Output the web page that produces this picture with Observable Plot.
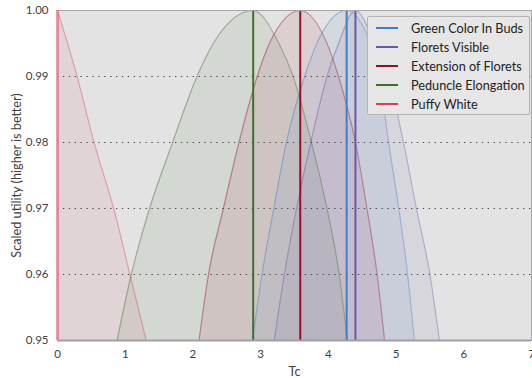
<!DOCTYPE html>
<html>
<head>
<meta charset="utf-8">
<script src="https://cdn.jsdelivr.net/npm/d3@7"></script>
<script src="https://cdn.jsdelivr.net/npm/@observablehq/plot@0.6"></script>
<style>
  body { margin: 0; background: #fff; font-family: Lato, "Open Sans", sans-serif; }
  #wrap { position: relative; width: 532px; height: 378px; }
  #legend { position: absolute; left: 367px; top: 16px; width: 163px; height: 99px;
    border: 1px solid #b4b4b4; border-radius: 2px; background: #e6e6e6; box-sizing: border-box;
    padding-top: 2px; }
  .row { height: 18.8px; display: flex; align-items: center; font-size: 12.7px; color: #222; white-space: nowrap; }
  .sw { width: 22px; height: 2px; margin-left: 8px; margin-right: 13px; flex: none; }
</style>
</head>
<body>
<div id="wrap"></div>
<script>
const seriesNames = ["Green Color In Buds", "Florets Visible", "Extension of Florets", "Peduncle Elongation", "Puffy White"];
const seriesColors = ["#3f7fc6", "#6a58a8", "#96102a", "#3f6f2c", "#d8405a"];
const peaksX = [4.27, 4.40, 3.585, 2.89, 0];

// shared utility levels of the bell-shaped curves (left flank, peak, right flank)
const levels = [0.95, 0.96, 0.97, 0.98, 0.99, 0.995, 1.0, 0.995, 0.99, 0.98, 0.97, 0.96, 0.95];
const greenBudsX  = [2.88, 3.02, 3.195, 3.38, 3.65, 3.83, 4.27, 4.62, 4.75, 4.89, 5.04, 5.17, 5.27];
const floretsVisX = [3.20, 3.35, 3.53, 3.74, 3.98, 4.15, 4.40, 4.68, 4.88, 5.11, 5.30, 5.50, 5.64];
const extensionX  = [2.09, 2.23, 2.45, 2.68, 2.95, 3.13, 3.585, 3.98, 4.15, 4.40, 4.57, 4.72, 4.83];
const peduncleX   = [0.88, 1.09, 1.36, 1.70, 2.06, 2.30, 2.89, 3.27, 3.48, 3.75, 3.98, 4.16, 4.28];
const puffyX      = [0, 0.29, 0.54, 0.83, 1.07, 1.31];
const puffyY      = [1.0, 0.99, 0.98, 0.97, 0.96, 0.95];

const xTicks = [0, 1, 2, 3, 4, 5, 6, 7];
const yTicks = [0.95, 0.96, 0.97, 0.98, 0.99, 1.00];
const gridY = [0.96, 0.97, 0.98, 0.99];

const curveXs = [greenBudsX, floretsVisX, extensionX, peduncleX, puffyX];
const rows = [];
curveXs.forEach((xs, i) => {
  const ys = i === 4 ? puffyY : levels;
  xs.forEach((x, j) => rows.push({series: seriesNames[i], x, y: ys[j]}));
});
const peaks = seriesNames.map((s, i) => ({series: s, x: peaksX[i]}));

const color = {domain: seriesNames, range: seriesColors};
const order = ["Puffy White", "Peduncle Elongation", "Extension of Florets", "Green Color In Buds", "Florets Visible"];
const marks = [Plot.frame({fill: "#e3e3e3", stroke: "none"})];
for (const s of order) {
  const d = rows.filter(r => r.series === s);
  marks.push(Plot.areaY(d, {x: "x", y1: 0.95, y2: "y", fill: "series", fillOpacity: 0.09, curve: "monotone-x"}));
}
marks.push(Plot.ruleY(gridY, {stroke: "#444", strokeDasharray: "1.3,4.6", strokeWidth: 1.1}));
for (const s of order) {
  const d = rows.filter(r => r.series === s);
  marks.push(Plot.line(d, {x: "x", y: "y", stroke: "series", strokeOpacity: 0.4, strokeWidth: 1.2, curve: "monotone-x"}));
}
marks.push(Plot.ruleX(peaks, {x: "x", y1: 0.95, y2: 1.0, stroke: "series", strokeWidth: 2}));
marks.push(Plot.frame({stroke: "#a8a8a8", strokeWidth: 1}));
marks.push(Plot.ruleY([0.95], {stroke: "#a0a0a0", strokeWidth: 2}));

const chart = Plot.plot({
  width: 532, height: 378,
  marginLeft: 57, marginRight: 1, marginTop: 10, marginBottom: 38,
  style: {fontFamily: "Lato, 'Open Sans', sans-serif", fontSize: "11.5px", color: "#404040", background: "#fff"},
  color,
  x: {domain: [0, 7], ticks: xTicks, tickSize: 0, tickPadding: 9, tickFormat: d3.format("d"),
      label: "Tc", labelAnchor: "center", labelOffset: 35, labelArrow: "none"},
  y: {domain: [0.95, 1.0], ticks: yTicks, tickSize: 0, tickPadding: 9, tickFormat: d3.format(".2f"),
      label: "Scaled utility (higher is better)", labelAnchor: "center", labelOffset: 46, labelArrow: "none"},
  marks
});
chart.querySelectorAll("[aria-label='x-axis label'] text, [aria-label='y-axis label'] text").forEach(t => t.style.fontSize = "12.7px");
const wrap = document.getElementById("wrap");
wrap.appendChild(chart);

const legend = document.createElement("div");
legend.id = "legend";
seriesNames.forEach((s, i) => {
  const r = document.createElement("div");
  r.className = "row";
  r.innerHTML = `<span class="sw" style="background:${seriesColors[i]}"></span><span>${s}</span>`;
  legend.appendChild(r);
});
wrap.appendChild(legend);
</script>
</body>
</html>
